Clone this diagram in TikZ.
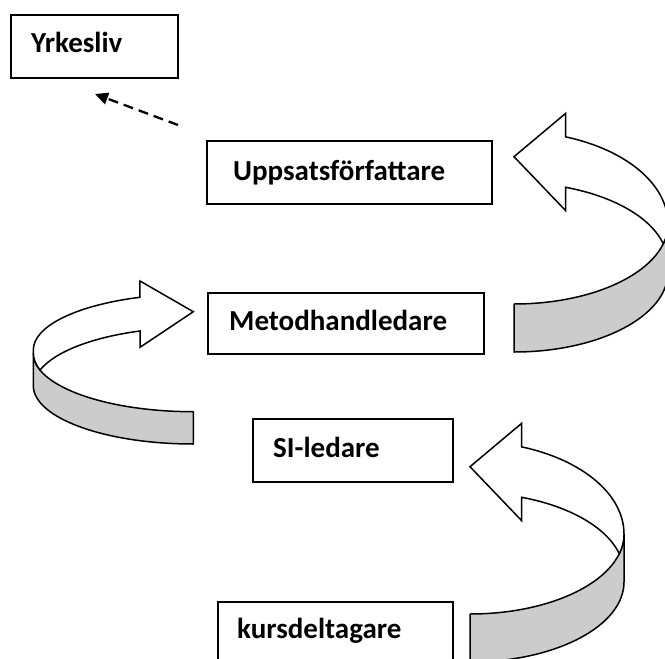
\documentclass[tikz,border=0pt]{standalone}
\usepackage{fontspec}
\setmainfont{Carlito}
\usetikzlibrary{arrows.meta}
\definecolor{bandgray}{RGB}{204,204,204}
\begin{document}
\begin{tikzpicture}[x=1pt,y=-1pt,
  box/.style={draw, line width=1.9pt, rectangle, inner sep=0pt, anchor=north west},
  lbl/.style={font=\fontsize{29}{33}\selectfont\bfseries, anchor=base west, inner sep=0pt},
  band/.style={draw, line width=1.5pt, fill=bandgray, line join=round},
  face/.style={draw, line width=1.5pt, fill=white, line join=miter},
  dashedarrow/.style={line width=2.3pt, dash pattern=on 10pt off 6pt,
    -{Triangle[length=13pt,width=12pt]}}
]
\useasboundingbox (0,0) rectangle (665,659);
\clip (0,0) rectangle (665,659);

% role boxes
\node[box, minimum width=167pt, minimum height=63pt] (yrk) at (10,14) {};
\node[lbl] (yrkt) at (31,52) {Yrkesliv};
\node[box, minimum width=285pt, minimum height=63pt] (ups) at (206,140) {};
\node[lbl] (upst) at (233,180) {Uppsatsförfattare};
\node[box, minimum width=276pt, minimum height=61pt] (met) at (207,292) {};
\node[lbl] (mett) at (229,330) {Metodhandledare};
\node[box, minimum width=200pt, minimum height=63pt] (sil) at (252,418) {};
\node[lbl] (silt) at (273,457) {SI-ledare};
\node[box, minimum width=235pt, minimum height=90pt] (kur) at (217,601) {};
\node[lbl] (kurt) at (237,638) {kursdeltagare};

% dashed step out to working life
\coordinate (dstart) at (178,125);
\coordinate (dend) at (95,94);
\draw[dashedarrow] (dstart) -- (dend);

% curved ribbon arrow, pointing left (upper right)
\begin{scope}[shift={(514,224)}]
  \draw[band] (0,128) arc[start angle=90, end angle=0, x radius=154, y radius=80]
    -- (154,0) arc[start angle=0, end angle=90, x radius=154, y radius=80] -- cycle;
  \draw[face] (154,0) arc[start angle=0, end angle=-70.4, x radius=154, y radius=92.5]
    -- (51.7,-110.7) -- (0,-67.3) -- (51.7,-13.3) -- (51.7,-36.7)
    arc[start angle=-70.4, end angle=-14.2, x radius=154, y radius=81]
    arc[start angle=14.2, end angle=0, x radius=154, y radius=80] -- cycle;
\end{scope}

% curved ribbon arrow, pointing right (left side)
\begin{scope}[shift={(193.3,353.3)}]
  \draw[band] (0,90.7) arc[start angle=90, end angle=180, x radius=160, y radius=58.4]
    -- (-160,0) arc[start angle=180, end angle=90, x radius=160, y radius=58.4] -- cycle;
  \draw[face] (-160,0) -- (-160,-3.3)
    arc[start angle=180, end angle=250.5, x radius=160, y radius=55.9]
    -- (-53.3,-72.3) -- (0,-41.6) -- (-53.3,-6) -- (-53.3,-22.3)
    arc[start angle=250.5, end angle=196.6, x radius=160, y radius=59.4]
    arc[start angle=163.4, end angle=180, x radius=160, y radius=58.4] -- cycle;
\end{scope}

% curved ribbon arrow, pointing left (lower right)
\begin{scope}[shift={(470,534)}]
  \draw[band] (0,128) arc[start angle=90, end angle=0, x radius=154, y radius=80]
    -- (154,0) arc[start angle=0, end angle=90, x radius=154, y radius=80] -- cycle;
  \draw[face] (154,0) arc[start angle=0, end angle=-70.4, x radius=154, y radius=92.5]
    -- (51.7,-110.7) -- (0,-67.3) -- (51.7,-13.3) -- (51.7,-36.7)
    arc[start angle=-70.4, end angle=-14.2, x radius=154, y radius=81]
    arc[start angle=14.2, end angle=0, x radius=154, y radius=80] -- cycle;
\end{scope}
\end{tikzpicture}
\end{document}
